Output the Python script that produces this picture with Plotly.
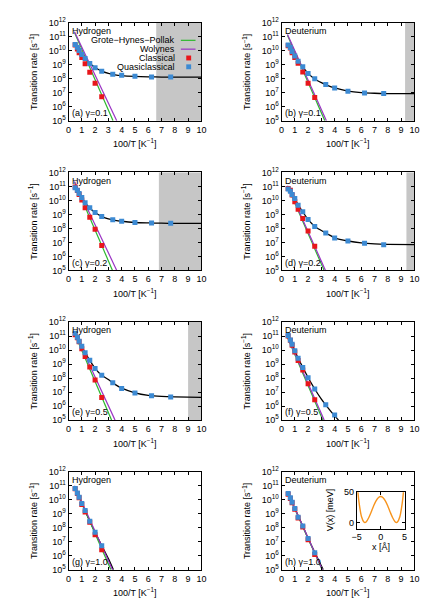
import plotly.graph_objects as go

# ---------------- data (log10 of transition rate in s^-1) ----------------
X_CLS = [0.5, 0.667, 0.8, 1.0, 1.25, 1.6, 2.0, 2.5]
X_QC = [0.5, 0.667, 0.8, 1.0, 1.25, 1.6, 2.0, 2.5, 3.33, 4.0, 5.0, 6.25, 7.69]
X_FIT = [0.45, 0.5, 0.667, 0.8, 1.0, 1.25, 1.6, 2.0, 2.5, 3.0, 3.5, 4.0, 5.0, 6.0, 7.0, 8.0, 10.0]

# (a) Hydrogen, gamma = 0.1
LOG_CLS_A = [10.40, 10.13, 9.86, 9.51, 9.06, 8.47, 7.67, 6.71]
LOG_QC_A = [10.45, 10.24, 10.02, 9.72, 9.45, 9.08, 8.79, 8.53, 8.31, 8.24, 8.17, 8.12, 8.12]
LOG_FIT_A = [10.55, 10.46, 10.23, 10.02, 9.74, 9.44, 9.08, 8.80, 8.54, 8.38, 8.28, 8.22, 8.16, 8.13, 8.12, 8.12, 8.12]
GHP_X_A, LOG_GHP_A = [0.45, 3.35], [11.30, 5.0]
WOL_X_A, LOG_WOL_A = [0.45, 3.63], [11.35, 5.0]

# (b) Deuterium, gamma = 0.1
LOG_CLS_B = [10.35, 10.19, 9.85, 9.51, 9.10, 8.48, 7.68, 6.65]
LOG_QC_B = [10.40, 10.22, 9.95, 9.62, 9.25, 8.85, 8.37, 7.99, 7.58, 7.33, 7.10, 6.98, 6.95]
LOG_FIT_B = [10.50, 10.40, 10.17, 9.95, 9.63, 9.25, 8.83, 8.38, 7.98, 7.72, 7.50, 7.34, 7.12, 7.01, 6.96, 6.94, 6.93]
GHP_X_B, LOG_GHP_B = [0.45, 3.26], [11.10, 5.0]
WOL_X_B, LOG_WOL_B = [0.45, 3.38], [11.15, 5.0]

# (c) Hydrogen, gamma = 0.2
LOG_CLS_C = [10.95, 10.70, 10.42, 10.02, 9.47, 8.80, 7.94, 6.77]
LOG_QC_C = [10.90, 10.73, 10.50, 10.21, 9.83, 9.47, 9.13, 8.85, 8.61, 8.51, 8.42, 8.39, 8.37]
LOG_FIT_C = [11.00, 10.92, 10.73, 10.52, 10.22, 9.84, 9.46, 9.13, 8.86, 8.68, 8.58, 8.51, 8.42, 8.39, 8.37, 8.36, 8.36]
GHP_X_C, LOG_GHP_C = [0.45, 3.31], [11.30, 5.0]
WOL_X_C, LOG_WOL_C = [0.45, 3.63], [11.35, 5.0]

# (d) Deuterium, gamma = 0.2
LOG_CLS_D = [10.85, 10.73, 10.38, 9.90, 9.37, 8.70, 7.82, 6.72]
LOG_QC_D = [10.81, 10.66, 10.42, 10.14, 9.66, 9.18, 8.63, 8.13, 7.68, 7.32, 7.10, 6.94, 6.84]
LOG_FIT_D = [10.92, 10.83, 10.63, 10.43, 10.13, 9.68, 9.18, 8.64, 8.14, 7.85, 7.58, 7.33, 7.10, 6.96, 6.89, 6.86, 6.84]
GHP_X_D, LOG_GHP_D = [0.45, 3.21], [11.00, 5.0]
WOL_X_D, LOG_WOL_D = [0.45, 3.31], [11.05, 5.0]

# (e) Hydrogen, gamma = 0.5
LOG_CLS_E = [11.10, 10.88, 10.59, 10.10, 9.54, 8.79, 7.86, 6.62]
LOG_QC_E = [11.20, 10.92, 10.64, 10.27, 9.81, 9.27, 8.69, 8.20, 7.67, 7.26, 6.94, 6.74, 6.65]
LOG_FIT_E = [11.30, 11.20, 10.92, 10.65, 10.28, 9.82, 9.27, 8.70, 8.20, 7.90, 7.55, 7.28, 6.95, 6.77, 6.69, 6.66, 6.63]
GHP_X_E, LOG_GHP_E = [0.45, 3.24], [11.20, 5.0]
WOL_X_E, LOG_WOL_E = [0.45, 3.50], [11.25, 5.0]

# (f) Deuterium, gamma = 0.5
X_QC_F = [0.5, 0.667, 0.8, 1.0, 1.25, 1.6, 2.0, 2.5, 3.33, 4.0]
LOG_CLS_F = [11.00, 10.71, 10.35, 9.86, 9.25, 8.57, 7.60, 6.45]
LOG_QC_F = [11.05, 10.72, 10.42, 9.95, 9.42, 8.76, 8.03, 7.23, 6.09, 5.36]
X_FIT_F = [0.45, 0.5, 0.667, 0.8, 1.0, 1.25, 1.6, 2.0, 2.5, 3.0, 3.5, 4.0, 4.29]
LOG_FIT_F = [11.15, 11.05, 10.72, 10.43, 9.96, 9.43, 8.77, 8.04, 7.22, 6.50, 5.87, 5.30, 5.0]
GHP_X_F, LOG_GHP_F = [0.45, 3.11], [10.90, 5.0]
WOL_X_F, LOG_WOL_F = [0.45, 3.21], [10.95, 5.0]

# (g) Hydrogen, gamma = 1.0
LOG_CLS_G = [10.78, 10.45, 10.15, 9.66, 9.13, 8.39, 7.51, 6.43]
LOG_QC_G = [10.81, 10.49, 10.18, 9.73, 9.23, 8.46, 7.68, 6.72]
X_FIT_G = [0.45, 1.0, 1.6, 2.0, 2.5, 3.0, 3.38]
LOG_FIT_G = [10.95, 9.75, 8.47, 7.68, 6.73, 5.80, 5.0]
GHP_X_G, LOG_GHP_G = [0.45, 3.19], [10.95, 5.0]
WOL_X_G, LOG_WOL_G = [0.45, 3.31], [11.00, 5.0]

# (h) Deuterium, gamma = 1.0
LOG_CLS_H = [10.40, 10.10, 9.78, 9.32, 8.70, 8.06, 7.15, 6.10]
LOG_QC_H = [10.45, 10.15, 9.82, 9.37, 8.75, 8.12, 7.23, 6.22]
X_FIT_H = [0.45, 1.0, 1.6, 2.0, 2.5, 3.14]
LOG_FIT_H = [10.55, 9.40, 8.13, 7.25, 6.25, 5.0]
GHP_X_H, LOG_GHP_H = [0.45, 3.06], [10.50, 5.0]
WOL_X_H, LOG_WOL_H = [0.45, 3.08], [10.55, 5.0]

# shaded (grey) region start in 100/T, per panel
SHADE_START = [6.6, 9.3, 6.8, 9.4, 9.0, None, None, None]

# inset: double-well potential
V_X = [-4.8, -4.5, -4.0, -3.5, -3.3, -3.0, -2.5, -2.0, -1.5, -1.0, -0.5, 0.0,
       0.5, 1.0, 1.5, 2.0, 2.5, 3.0, 3.3, 3.5, 4.0, 4.5, 4.8]
V_MEV = [54, 32, 9.5, 0.7, 0.0, 1.3, 7.8, 17, 27, 35.5, 41, 43,
         41, 35.5, 27, 17, 7.8, 1.3, 0.0, 0.7, 9.5, 32, 54]

X_TICKS = list(range(0, 11))
Y_TICK_EXP = list(range(5, 13))

PANEL_TAGS = ["a", "b", "c", "d", "e", "f", "g", "h"]
ISOTOPES = ["Hydrogen", "Deuterium"] * 4
GAMMAS = ["0.1", "0.1", "0.2", "0.2", "0.5", "0.5", "1.0", "1.0"]

PANELS = [
    (LOG_CLS_A, X_QC, LOG_QC_A, X_FIT, LOG_FIT_A, GHP_X_A, LOG_GHP_A, WOL_X_A, LOG_WOL_A),
    (LOG_CLS_B, X_QC, LOG_QC_B, X_FIT, LOG_FIT_B, GHP_X_B, LOG_GHP_B, WOL_X_B, LOG_WOL_B),
    (LOG_CLS_C, X_QC, LOG_QC_C, X_FIT, LOG_FIT_C, GHP_X_C, LOG_GHP_C, WOL_X_C, LOG_WOL_C),
    (LOG_CLS_D, X_QC, LOG_QC_D, X_FIT, LOG_FIT_D, GHP_X_D, LOG_GHP_D, WOL_X_D, LOG_WOL_D),
    (LOG_CLS_E, X_QC, LOG_QC_E, X_FIT, LOG_FIT_E, GHP_X_E, LOG_GHP_E, WOL_X_E, LOG_WOL_E),
    (LOG_CLS_F, X_QC_F, LOG_QC_F, X_FIT_F, LOG_FIT_F, GHP_X_F, LOG_GHP_F, WOL_X_F, LOG_WOL_F),
    (LOG_CLS_G, X_CLS, LOG_QC_G, X_FIT_G, LOG_FIT_G, GHP_X_G, LOG_GHP_G, WOL_X_G, LOG_WOL_G),
    (LOG_CLS_H, X_CLS, LOG_QC_H, X_FIT_H, LOG_FIT_H, GHP_X_H, LOG_GHP_H, WOL_X_H, LOG_WOL_H),
]

# ---------------- style / layout ----------------
W, H = 436, 610
FONT = "Liberation Sans, Arial, Helvetica, sans-serif"
FS = 9
GREEN = "#2db82d"
PURPLE = "#9a32c4"
RED = "#e8161b"
BLUE = "#3c8ad3"
GREY = "#c6c6c6"
ORANGE = "#f7941d"

COL_PX = [(65, 201), (283, 419)]
ROW_TOP0, ROW_STEP, ROW_H = 16.0, 152.7, 100.0
ROW_PX = [(ROW_TOP0 + k * ROW_STEP, ROW_TOP0 + k * ROW_STEP + ROW_H) for k in range(4)]


def px(xp):
    return xp / W


def py(yp):
    return 1 - yp / H


def exp10(vals):
    return [10 ** v for v in vals]


fig = go.Figure()
layout = dict(
    width=W, height=H, margin=dict(l=0, r=0, t=0, b=0), autosize=False,
    paper_bgcolor="white", plot_bgcolor="white", showlegend=False,
    font=dict(family=FONT, size=FS, color="black"),
)
shapes = []
annotations = []

for i, (cls, xqc, qc, xfit, fit, gx, gy, wx, wy) in enumerate(PANELS):
    n = i + 1
    xa = "x" if n == 1 else f"x{n}"
    ya = "y" if n == 1 else f"y{n}"
    col = i % 2
    row = i // 2
    c0, c1 = COL_PX[col]
    r0, r1 = ROW_PX[row]

    common_ax = dict(
        ticks="inside", ticklen=3, tickwidth=1, tickcolor="black",
        showline=True, linecolor="black", linewidth=1, mirror="allticks",
        showgrid=False, zeroline=False,
        tickfont=dict(family=FONT, size=FS, color="black"),
    )
    layout[f"xaxis{'' if n == 1 else n}"] = dict(
        domain=[px(c0), px(c1)], anchor=ya, range=[0, 10],
        tickvals=X_TICKS, ticktext=[str(t) for t in X_TICKS], **common_ax)
    layout[f"yaxis{'' if n == 1 else n}"] = dict(
        domain=[py(r1), py(r0)], anchor=xa, type="log", range=[5, 12],
        tickvals=[10 ** e for e in Y_TICK_EXP],
        ticktext=[f"10<sup>{e}</sup>" for e in Y_TICK_EXP], **common_ax)

    if SHADE_START[i] is not None:
        shapes.append(dict(type="rect", xref=xa, yref=f"{ya} domain",
                           x0=SHADE_START[i], x1=10, y0=0, y1=1,
                           fillcolor=GREY, line=dict(width=0), layer="below"))

    fig.add_trace(go.Scatter(x=xfit, y=exp10(fit), mode="lines", xaxis=xa, yaxis=ya,
                             line=dict(color="black", width=1.3, shape="spline", smoothing=0.6),
                             name="fit", hoverinfo="skip"))
    fig.add_trace(go.Scatter(x=gx, y=exp10(gy), mode="lines", xaxis=xa, yaxis=ya,
                             line=dict(color=GREEN, width=1.2), name="Grote−Hynes−Pollak"))
    fig.add_trace(go.Scatter(x=wx, y=exp10(wy), mode="lines", xaxis=xa, yaxis=ya,
                             line=dict(color=PURPLE, width=1.2), name="Wolynes"))
    fig.add_trace(go.Scatter(x=X_CLS, y=exp10(cls), mode="markers", xaxis=xa, yaxis=ya,
                             marker=dict(symbol="square", size=5, color=RED, line=dict(width=0)),
                             name="Classical"))
    fig.add_trace(go.Scatter(x=xqc, y=exp10(qc), mode="markers", xaxis=xa, yaxis=ya,
                             marker=dict(symbol="square", size=5, color=BLUE, line=dict(width=0)),
                             name="Quasiclassical"))

    # panel texts
    annotations.append(dict(text=ISOTOPES[i], xref="paper", yref="paper",
                            x=px(c0 + 2), y=py(r0 + 8.5), xanchor="left", yanchor="middle",
                            showarrow=False, font=dict(family=FONT, size=FS, color="black")))
    annotations.append(dict(text=f"({PANEL_TAGS[i]}) γ={GAMMAS[i]}", xref="paper", yref="paper",
                            x=px(c0 + 2), y=py(r1 - 8), xanchor="left", yanchor="middle",
                            showarrow=False, font=dict(family=FONT, size=FS, color="black")))
    # axis titles
    annotations.append(dict(text="Transition rate [s<sup>−1</sup>]", xref="paper", yref="paper",
                            x=px(c0 - 36), y=py((r0 + r1) / 2), xanchor="center", yanchor="middle",
                            textangle=-90, showarrow=False,
                            font=dict(family=FONT, size=FS, color="black")))
    annotations.append(dict(text="100/T [K<sup>−1</sup>]", xref="paper", yref="paper",
                            x=px((c0 + c1) / 2), y=py(r1 + 23), xanchor="center", yanchor="middle",
                            showarrow=False, font=dict(family=FONT, size=FS, color="black")))

# ---------------- legend of panel (a), gnuplot style ----------------
LEG_TEXT_RIGHT = 176
LEG_ROWS = [34, 43, 52, 61]
leg_items = [("Grote−Hynes−Pollak", "line", GREEN), ("Wolynes", "line", PURPLE),
             ("Classical", "sq", RED), ("Quasiclassical", "sq", BLUE)]
for (label, kind, color), yy in zip(leg_items, LEG_ROWS):
    annotations.append(dict(text=label, xref="paper", yref="paper",
                            x=px(LEG_TEXT_RIGHT), y=py(yy), xanchor="right", yanchor="middle",
                            showarrow=False, font=dict(family=FONT, size=FS, color="black")))
    if kind == "line":
        shapes.append(dict(type="line", xref="paper", yref="paper",
                           x0=px(180), x1=px(195), y0=py(yy), y1=py(yy),
                           line=dict(color=color, width=1.2)))
    else:
        shapes.append(dict(type="rect", xref="paper", yref="paper",
                           x0=px(185.5), x1=px(190.5), y0=py(yy - 2.5), y1=py(yy + 2.5),
                           fillcolor=color, line=dict(width=0)))

# ---------------- inset in panel (h) ----------------
IN_X = (360, 409)
IN_Y = (495, 532)
layout["xaxis9"] = dict(domain=[px(IN_X[0]), px(IN_X[1])], anchor="y9", range=[-5, 5],
                        tickvals=[-5, 0, 5], ticktext=["−5", "0", "5"],
                        ticks="inside", ticklen=3, tickcolor="black", showline=True,
                        linecolor="black", linewidth=1, mirror="allticks", showgrid=False,
                        zeroline=False, tickfont=dict(family=FONT, size=FS, color="black"))
layout["yaxis9"] = dict(domain=[py(IN_Y[1]), py(IN_Y[0])], anchor="x9", range=[-10, 50],
                        tickvals=[0, 50], ticktext=["0", "50"],
                        ticks="inside", ticklen=3, tickcolor="black", showline=True,
                        linecolor="black", linewidth=1, mirror="allticks", showgrid=False,
                        zeroline=False, tickfont=dict(family=FONT, size=FS, color="black"))
fig.add_trace(go.Scatter(x=V_X, y=V_MEV, mode="lines", xaxis="x9", yaxis="y9",
                         line=dict(color=ORANGE, width=1.4, shape="spline", smoothing=0.8),
                         name="V(x)"))
annotations.append(dict(text="V(x) [meV]", xref="paper", yref="paper",
                        x=px(333), y=py(513), xanchor="center", yanchor="middle",
                        textangle=-90, showarrow=False,
                        font=dict(family=FONT, size=FS, color="black")))
annotations.append(dict(text="x [Å]", xref="paper", yref="paper",
                        x=px(385), y=py(551), xanchor="center", yanchor="middle",
                        showarrow=False, font=dict(family=FONT, size=FS, color="black")))

layout["shapes"] = shapes
layout["annotations"] = annotations
fig.update_layout(**layout)
fig.write_html("out.html", config={"displayModeBar": False},
               post_script="document.body.style.margin='0px';")
